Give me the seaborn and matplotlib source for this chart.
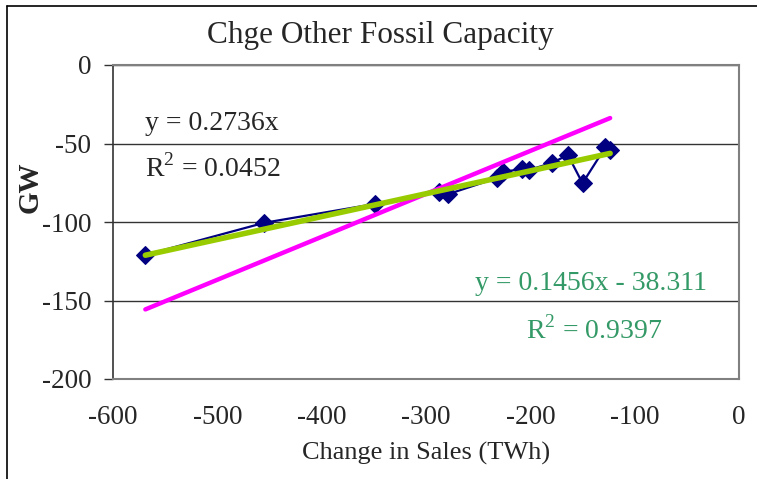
import numpy as np
import pandas as pd
import seaborn as sns
import matplotlib
matplotlib.use("Agg")
import matplotlib.pyplot as plt
from matplotlib.lines import Line2D

### DATA
sales_change = [-569, -455, -349, -288, -279, -232, -226, -208, -201, -179, -164, -150, -128, -123.5]
fossil_gw = [-121, -100.5, -88.5, -81, -82.3, -72, -68, -66.3, -66.8, -62.3, -57.3, -75.3, -52.3, -54.3]

slope_origin = 0.2736          # y = 0.2736x, R2 = 0.0452
slope_fit, intercept_fit = 0.1456, -38.311   # R2 = 0.9397

x_ticks = [-600, -500, -400, -300, -200, -100, 0]
y_ticks = [0, -50, -100, -150, -200]

df = pd.DataFrame({"sales": sales_change, "gw": fossil_gw})
x_range = np.array([min(sales_change), max(sales_change)])
trend = pd.DataFrame({
    "sales": x_range,
    "origin": slope_origin * x_range,
    "fit": slope_fit * x_range + intercept_fit,
})

### PLOT
sns.set_theme(style="white")
plt.rcParams['font.family'] = ['Liberation Serif', 'DejaVu Serif']
plt.rcParams['mathtext.fontset'] = 'custom'
plt.rcParams['mathtext.rm'] = 'Liberation Serif'

fig = plt.figure(figsize=(7.57, 4.79), dpi=100)
ax = fig.add_axes([113/757, 1 - 379/479, (739 - 113)/757, (379 - 65)/479])

sns.lineplot(data=df, x="sales", y="gw", sort=False, ax=ax, color="#000080",
             linewidth=1.6, marker="D", markersize=9, markeredgecolor="#000080", zorder=3)
sns.lineplot(data=trend, x="sales", y="origin", ax=ax, color="#FF00FF", linewidth=3.2, zorder=4)
sns.lineplot(data=trend, x="sales", y="fit", ax=ax, color="#99CC00", linewidth=4.0, zorder=5)

ax.set_xlim(-600, 0)
ax.set_ylim(-200, 0)
ax.set_xticks(x_ticks)
ax.set_yticks(y_ticks)
ax.set_xticklabels([str(t) for t in x_ticks])
ax.set_yticklabels([str(t) for t in y_ticks])
ax.yaxis.grid(True, color="#333333", linewidth=1.0)
ax.xaxis.grid(False)

for side in ["top", "right", "bottom"]:
    ax.spines[side].set_color("#808080")
    ax.spines[side].set_linewidth(1.5)
ax.spines["left"].set_color("#333333")
ax.spines["left"].set_linewidth(1.2)

ax.tick_params(axis="y", left=True, length=6.5, width=1, color="#333333", pad=9, labelsize=19.5)
ax.tick_params(axis="x", bottom=False, pad=13, labelsize=19.5)

ax.set_xlabel("")
ax.set_ylabel("")
fig.text(426/757, 1 - 453/479, "Change in Sales (TWh)", ha="center", va="center", fontsize=19)
fig.text(30/757, 1 - 187/479, "GW", ha="center", va="center", rotation=90,
         fontsize=21, fontweight="bold")
fig.text(380/757, 1 - 35/479, "Chge Other Fossil Capacity", ha="center", va="center", fontsize=22.5)

fig.text(145/757, 1 - 123/479, "y = 0.2736x", ha="left", va="center", fontsize=20)
fig.text(145/757, 1 - 168/479, "R$^2$ = 0.0452", ha="left", va="center", fontsize=20)
fig.text(707/757, 1 - 283/479, "y = 0.1456x - 38.311", ha="right", va="center",
         fontsize=20, color="#339966")
fig.text(526/757, 1 - 330/479, "R$^2$ = 0.9397", ha="left", va="center",
         fontsize=20, color="#339966")

# outer chart frame (left and top edges visible)
fig.add_artist(Line2D([7/757, 7/757], [0, 1 - 6/479], transform=fig.transFigure, color="black", linewidth=1.2))
fig.add_artist(Line2D([7/757, 1], [1 - 6/479, 1 - 6/479], transform=fig.transFigure, color="black", linewidth=1.2))

fig.savefig("out.png", dpi=100)
